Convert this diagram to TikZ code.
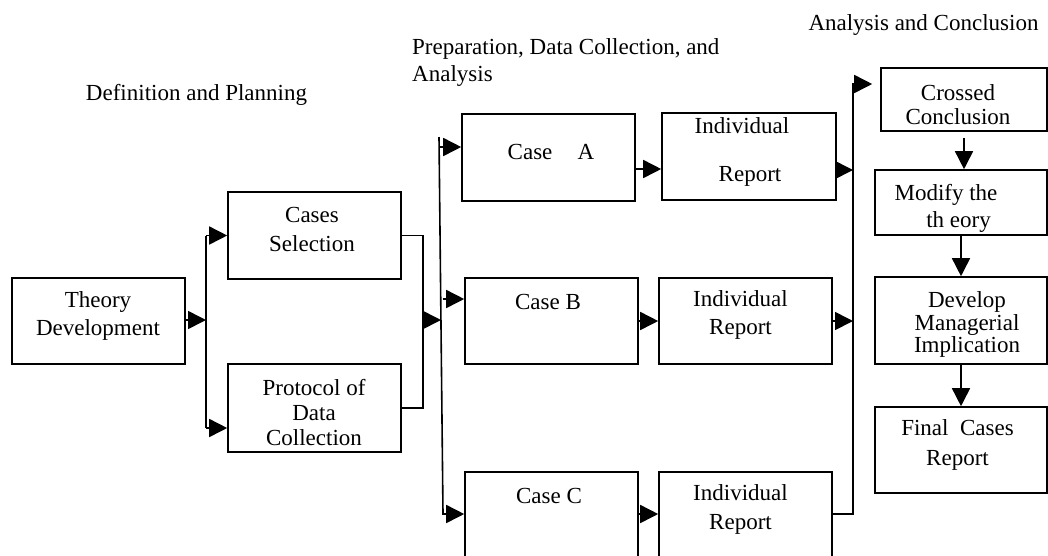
\documentclass[tikz,border=0pt]{standalone}
\usepackage{fontspec}
\setmainfont{Liberation Serif}
\usetikzlibrary{arrows.meta}
\begin{document}
\begin{tikzpicture}[x=1pt,y=-1pt,
  box/.style={draw, line width=1.6pt, inner sep=0pt},
  txt/.style={align=center, inner sep=0pt, font=\fontsize{23}{28}\selectfont},
  ln/.style={line width=1.6pt},
  arr/.style={line width=1.6pt, -{Triangle[length=18pt,width=18pt]}}]
\clip (0,0) rectangle (1048,555);
% boxes
\node[box, minimum width=173, minimum height=86] (theory) at (98.5,321) {};
\node[box, minimum width=173, minimum height=87] (cs) at (314.5,235.5) {};
\node[box, minimum width=173, minimum height=88] (prot) at (314.5,408) {};
\node[box, minimum width=173, minimum height=87] (caseA) at (548.5,157.5) {};
\node[box, minimum width=174, minimum height=87] (irA) at (749,156.5) {};
\node[box, minimum width=173, minimum height=86] (caseB) at (551.5,321) {};
\node[box, minimum width=173, minimum height=86] (irB) at (745.5,321) {};
\node[box, minimum width=173, minimum height=128] (caseC) at (551.5,536) {};
\node[box, minimum width=173, minimum height=128] (irC) at (745.5,536) {};
\node[box, minimum width=166, minimum height=63] (cc) at (964,99.5) {};
\node[box, minimum width=172, minimum height=65] (mod) at (961,202.5) {};
\node[box, minimum width=172, minimum height=87] (dev) at (961,320.5) {};
\node[box, minimum width=172, minimum height=86] (fin) at (961,450) {};
% box texts
\node[txt] (theoryT) at (98,316) {Theory\\Development};
\node[txt, font=\fontsize{23}{29}\selectfont] (csT) at (312,229.5) {Cases\\Selection};
\node[txt, font=\fontsize{23}{25}\selectfont] (protT) at (314,412.5) {Protocol of\\Data\\Collection};
\node[txt] (caseAT) at (551,152) {Case\hspace{1.1em}A};
\node[txt, font=\fontsize{23}{48}\selectfont] (irAT) at (746,152) {\hspace*{-8pt}Individual\\\hspace*{8pt}Report};
\node[txt] (caseBT) at (548,302) {Case B};
\node[txt] (irBT) at (740.5,315) {Individual\\Report};
\node[txt] (caseCT) at (549,496) {Case C};
\node[txt, font=\fontsize{23}{29}\selectfont] (irCT) at (740.5,509.5) {Individual\\Report};
\node[txt, font=\fontsize{23}{24}\selectfont] (ccT) at (958,105) {Crossed\\Conclusion};
\node[txt, font=\fontsize{23}{27}\selectfont] (modT) at (952,208.5) {\hspace*{-12pt}Modify the\\\hspace*{13pt}th eory};
\node[txt, font=\fontsize{23}{22.5}\selectfont] (devT) at (967,324.5) {Develop\\Managerial\\Implication};
\node[txt, font=\fontsize{23}{30}\selectfont] (finT) at (957.5,445) {Final\ \ Cases\\Report};
% headers
\node[txt, anchor=base] (defT) at (196.5,100) {Definition and Planning};
\node[txt, align=left, anchor=north west, font=\fontsize{23}{27}\selectfont] (prepT) at (412,38) {Preparation, Data Collection, and\\Analysis};
\node[txt, anchor=base] (acT) at (923.5,30.5) {Analysis and Conclusion};
% junction after theory
\coordinate (jA) at (206,320);
\coordinate (jAtop) at (206,235.5);
\coordinate (jAbot) at (206,428);
\draw[arr] (theory.east |- jA) -- (jA);
\draw[ln] (jAtop) -- (jAbot);
\draw[arr] (jAtop) -- (cs.west);
\draw[arr] (jAbot) -- (prot.west |- jAbot);
% merge of selection and protocol
\coordinate (jB) at (423,320);
\coordinate (jBtop) at (423,235.5);
\coordinate (jBbot) at (423,408);
\draw[ln] (cs.east) -- (jBtop) -- (jBbot) -- (prot.east);
% left bus
\coordinate (busTop) at (439,137);
\coordinate (busBot) at (443,514);
\coordinate (busA) at (439.1,147);
\coordinate (busM) at (441,320);
\coordinate (busB) at (442.5,299);
\draw[arr] (jB) -- (busM);
\draw[arr] (busTop) -- (busBot) -- (caseC.west |- busBot);
\draw[arr] (busA) -- (caseA.west |- busA);
\draw[arr] (busB) -- (caseB.west |- busB);
% case -> report
\coordinate (lvA) at (0,169);
\coordinate (lvA2) at (0,170);
\draw[arr] (caseA.east |- lvA) -- (irA.west |- lvA);
\draw[arr] (caseB.east) -- (irB.west);
\draw[arr] (caseC.east |- busBot) -- (irC.west |- busBot);
% right bus
\coordinate (rbTop) at (853,84);
\coordinate (rbBot) at (853,514);
\draw[arr] (irA.east |- lvA2) -- (rbTop |- lvA2);
\draw[arr] (irB.east) -- (rbTop |- irB.east);
\draw[arr, shorten >=8pt] (irC.east |- rbBot) -- (rbBot) -- (rbTop) -- (cc.west |- rbTop);
% right column
\draw[arr, shorten <=6pt] (cc.south) -- (cc.south |- mod.north);
\draw[arr] (mod.south) -- (dev.north);
\draw[arr] (dev.south) -- (fin.north);
\end{tikzpicture}
\end{document}
